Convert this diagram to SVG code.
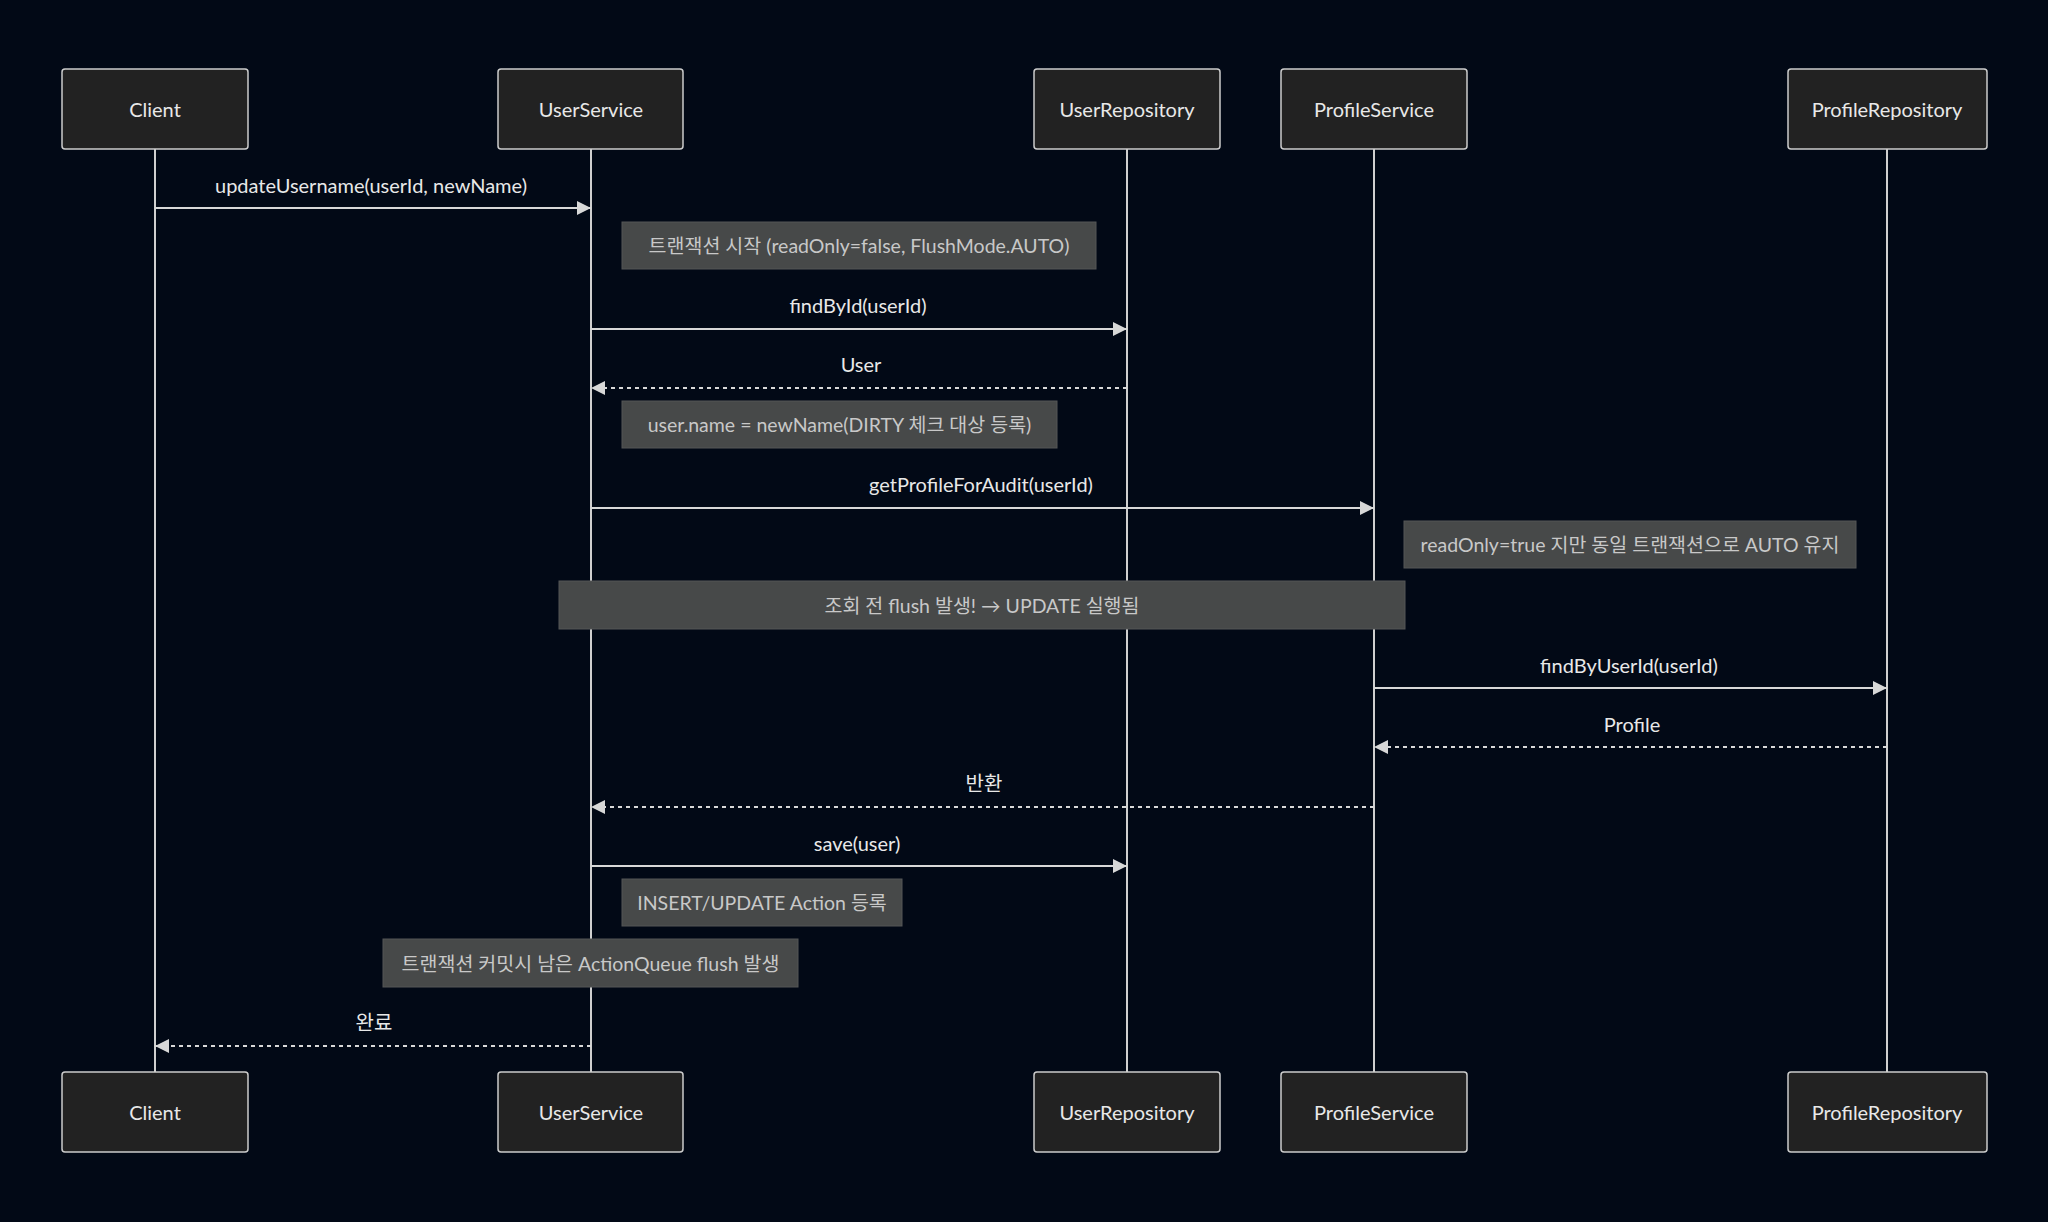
<svg xmlns="http://www.w3.org/2000/svg" width="2048" height="1222" viewBox="0 0 2048 1222">
<defs>
<style>
.actor{fill:#222222;stroke:#cccccc;stroke-width:1.5}
.atext{fill:#e8e8e8;font-family:Lato,"Noto Sans CJK KR",sans-serif;font-size:20px;text-anchor:middle;dominant-baseline:central}
.life{stroke:#d0d0d0;stroke-width:2}
.msg{stroke:#d8d8d8;stroke-width:2;fill:none}
.dash{stroke-dasharray:4,4}
.mtext{fill:#e8e8e8;font-family:Lato,"Noto Sans CJK KR",sans-serif;font-size:20px;text-anchor:middle}
.note{fill:#474949;stroke:#555757;stroke-width:1}
.ntext{fill:#c8c8c8;font-family:Lato,"Noto Sans CJK KR",sans-serif;font-size:19.5px;text-anchor:middle;dominant-baseline:central}
</style>
<marker id="ah" viewBox="0 0 14 14" refX="14" refY="7" markerWidth="14" markerHeight="14" markerUnits="userSpaceOnUse" orient="auto">
<path d="M0,0 L14,7 L0,14 z" fill="#d8d8d8"/>
</marker>
</defs>
<rect width="2048" height="1222" fill="#020916"/>

<g id="lifelines">
<line class="life" x1="155" y1="149" x2="155" y2="1072"/>
<line class="life" x1="591" y1="149" x2="591" y2="1072"/>
<line class="life" x1="1127" y1="149" x2="1127" y2="1072"/>
<line class="life" x1="1374" y1="149" x2="1374" y2="1072"/>
<line class="life" x1="1887" y1="149" x2="1887" y2="1072"/>
</g>

<g id="actor-client-top"><rect class="actor" x="62" y="69" width="186" height="80" rx="3"/><text class="atext" x="155" y="109">Client</text></g>
<g id="actor-userservice-top"><rect class="actor" x="498" y="69" width="185" height="80" rx="3"/><text class="atext" x="591" y="109">UserService</text></g>
<g id="actor-userrepository-top"><rect class="actor" x="1034" y="69" width="186" height="80" rx="3"/><text class="atext" x="1127" y="109">UserRepository</text></g>
<g id="actor-profileservice-top"><rect class="actor" x="1281" y="69" width="186" height="80" rx="3"/><text class="atext" x="1374" y="109">ProfileService</text></g>
<g id="actor-profilerepository-top"><rect class="actor" x="1788" y="69" width="199" height="80" rx="3"/><text class="atext" x="1887" y="109">ProfileRepository</text></g>

<g id="notes">
<g id="note1"><rect class="note" x="622" y="222" width="474" height="47"/><text class="ntext" x="859" y="245.5">트랜잭션 시작 (readOnly=false, FlushMode.AUTO)</text></g>
<g id="note2"><rect class="note" x="622" y="401" width="435" height="47"/><text class="ntext" x="839.5" y="424.5">user.name = newName(DIRTY 체크 대상 등록)</text></g>
<g id="note3"><rect class="note" x="1404" y="521" width="452" height="47"/><text class="ntext" x="1630" y="544.5">readOnly=true 지만 동일 트랜잭션으로 AUTO 유지</text></g>
<g id="note4"><rect class="note" x="559" y="581" width="846" height="48"/><text class="ntext" x="982" y="605">조회 전 flush 발생! → UPDATE 실행됨</text></g>
<g id="note5"><rect class="note" x="622" y="879" width="280" height="47"/><text class="ntext" x="762" y="902.5">INSERT/UPDATE Action 등록</text></g>
<g id="note6"><rect class="note" x="383" y="939" width="415" height="48"/><text class="ntext" x="590.5" y="963">트랜잭션 커밋시 남은 ActionQueue flush 발생</text></g>
</g>

<g id="connectors">
<line class="msg" x1="155" y1="208" x2="591" y2="208" marker-end="url(#ah)"/>
<text class="mtext" x="371" y="193">updateUsername(userId, newName)</text>
<line class="msg" x1="591" y1="329" x2="1127" y2="329" marker-end="url(#ah)"/>
<text class="mtext" x="858" y="313">findById(userId)</text>
<line class="msg dash" x1="1127" y1="388" x2="591" y2="388" marker-end="url(#ah)"/>
<text class="mtext" x="861" y="372">User</text>
<line class="msg" x1="591" y1="508" x2="1374" y2="508" marker-end="url(#ah)"/>
<text class="mtext" x="981" y="492">getProfileForAudit(userId)</text>
<line class="msg" x1="1374" y1="688" x2="1887" y2="688" marker-end="url(#ah)"/>
<text class="mtext" x="1629" y="673">findByUserId(userId)</text>
<line class="msg dash" x1="1887" y1="747" x2="1374" y2="747" marker-end="url(#ah)"/>
<text class="mtext" x="1632" y="732">Profile</text>
<line class="msg dash" x1="1374" y1="807" x2="591" y2="807" marker-end="url(#ah)"/>
<text class="mtext" x="984" y="791">반환</text>
<line class="msg" x1="591" y1="866" x2="1127" y2="866" marker-end="url(#ah)"/>
<text class="mtext" x="857" y="851">save(user)</text>
<line class="msg dash" x1="591" y1="1046" x2="155" y2="1046" marker-end="url(#ah)"/>
<text class="mtext" x="374" y="1030">완료</text>
</g>

<g id="actor-client-bottom"><rect class="actor" x="62" y="1072" width="186" height="80" rx="3"/><text class="atext" x="155" y="1112">Client</text></g>
<g id="actor-userservice-bottom"><rect class="actor" x="498" y="1072" width="185" height="80" rx="3"/><text class="atext" x="591" y="1112">UserService</text></g>
<g id="actor-userrepository-bottom"><rect class="actor" x="1034" y="1072" width="186" height="80" rx="3"/><text class="atext" x="1127" y="1112">UserRepository</text></g>
<g id="actor-profileservice-bottom"><rect class="actor" x="1281" y="1072" width="186" height="80" rx="3"/><text class="atext" x="1374" y="1112">ProfileService</text></g>
<g id="actor-profilerepository-bottom"><rect class="actor" x="1788" y="1072" width="199" height="80" rx="3"/><text class="atext" x="1887" y="1112">ProfileRepository</text></g>
</svg>
